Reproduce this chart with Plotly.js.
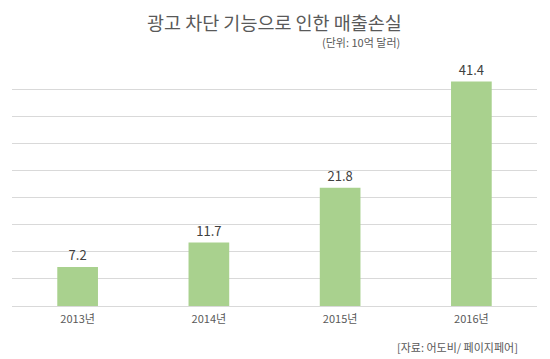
<!DOCTYPE html>
<html>
<head>
<meta charset="utf-8">
<script src="https://cdn.plot.ly/plotly-3.0.1.min.js"></script>
<style>html,body{margin:0;padding:0;background:#fff;}#chart{width:550px;height:359px;}</style>
</head>
<body>
<div id="chart"></div>
<script>
const categories = ["2013년", "2014년", "2015년", "2016년"];
const lossValues = [7.2, 11.7, 21.8, 41.4];
const valueLabels = ["7.2", "11.7", "21.8", "41.4"];
const chartTitle = "광고 차단 기능으로 인한 매출손실";
const unitNote = "(단위: 10억 달러)";
const sourceNote = "[자료: 어도비/ 페이지페어]";

const FONT = "'Noto Sans CJK KR', 'Noto Sans', sans-serif";

const trace = {
  type: "bar",
  x: categories,
  y: lossValues,
  text: valueLabels,
  textposition: "outside",
  textfont: {family: FONT, size: 13, color: "#404040"},
  cliponaxis: false,
  marker: {color: "#a9d18e"},
  hoverinfo: "none"
};

const layout = {
  width: 550,
  height: 359,
  margin: {l: 12, r: 13, t: 62, b: 53},
  paper_bgcolor: "#ffffff",
  plot_bgcolor: "#ffffff",
  showlegend: false,
  bargap: 0.69,
  font: {family: FONT, color: "#595959"},
  xaxis: {
    type: "category",
    showgrid: false,
    showline: true,
    linecolor: "#d9d9d9",
    linewidth: 1,
    ticks: "",
    ticklabelstandoff: 3,
    tickfont: {family: FONT, size: 11, color: "#595959"},
    fixedrange: true
  },
  yaxis: {
    range: [0, 45],
    dtick: 5,
    showgrid: true,
    gridcolor: "#d9d9d9",
    gridwidth: 1,
    zeroline: false,
    showticklabels: false,
    ticks: "",
    fixedrange: true
  },
  annotations: [
    {text: chartTitle, xref: "paper", yref: "paper", x: 0.5, y: 1, yshift: 40, xanchor: "center", yanchor: "middle", showarrow: false, font: {family: FONT, size: 18.5, color: "#595959"}},
    {text: unitNote, xref: "paper", yref: "paper", x: (402 - 12) / 525, y: 1, yshift: 20, xanchor: "right", yanchor: "middle", showarrow: false, font: {family: FONT, size: 11, color: "#595959"}},
    {text: sourceNote, xref: "paper", yref: "paper", x: (520 - 12) / 525, y: 0, yshift: -41, xanchor: "right", yanchor: "middle", showarrow: false, font: {family: FONT, size: 11, color: "#595959"}}
  ]
};

Plotly.newPlot("chart", [trace], layout, {displayModeBar: false, staticPlot: true});
</script>
</body>
</html>
